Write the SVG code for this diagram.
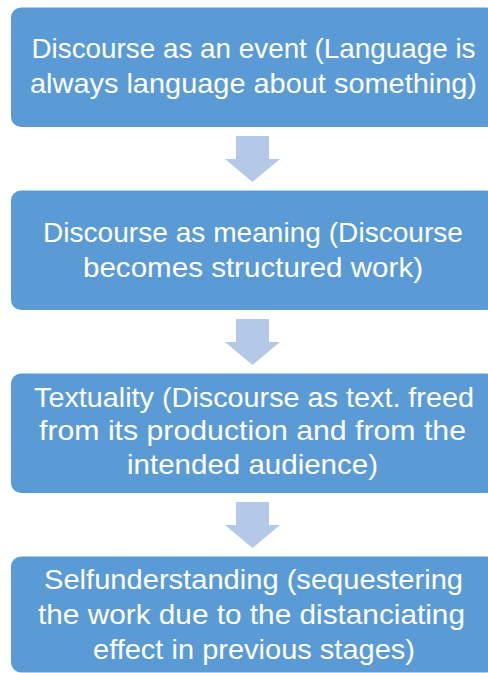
<svg xmlns="http://www.w3.org/2000/svg" width="488" height="673" viewBox="0 0 488 673">
  <defs>
    <style>
      .box { fill: #5B9BD5; }
      .arrow { fill: #B4C8E8; }
      .label { fill: #FFFFFF; font-family: "Liberation Sans", Arial, sans-serif; font-size: 28px; text-anchor: middle; }
    </style>
    <!-- down arrow shape, drawn relative to its top centre -->
    <path id="downArrow" d="M -16.5 0 H 16.5 V 23 H 27.5 L 0 46 L -27.5 23 H -16.5 Z"/>
  </defs>

  <rect width="488" height="673" fill="#FFFFFF"/>

  <g id="connectors">
    <use href="#downArrow" class="arrow" x="252.5" y="136"/>
    <use href="#downArrow" class="arrow" x="252.5" y="319"/>
    <use href="#downArrow" class="arrow" x="252.5" y="502"/>
  </g>

  <g id="node-event">
    <rect class="box" x="11" y="7.5" width="485" height="119.5" rx="10"/>
    <text class="label" x="253.5" y="58.3" textLength="444" lengthAdjust="spacingAndGlyphs">Discourse as an event (Language is</text>
    <text class="label" x="253.5" y="93.3" textLength="447" lengthAdjust="spacingAndGlyphs">always language about something)</text>
  </g>

  <g id="node-meaning">
    <rect class="box" x="11" y="190.5" width="485" height="119.5" rx="10"/>
    <text class="label" x="253" y="241.7" textLength="420" lengthAdjust="spacingAndGlyphs">Discourse as meaning (Discourse</text>
    <text class="label" x="253" y="276.7" textLength="340" lengthAdjust="spacingAndGlyphs">becomes structured work)</text>
  </g>

  <g id="node-textuality">
    <rect class="box" x="11" y="373.5" width="485" height="119.5" rx="10"/>
    <text class="label" x="254" y="406.7" textLength="440" lengthAdjust="spacingAndGlyphs">Textuality (Discourse as text. freed</text>
    <text class="label" x="252.5" y="440.3" textLength="427" lengthAdjust="spacingAndGlyphs">from its production and from the</text>
    <text class="label" x="252.5" y="474" textLength="251" lengthAdjust="spacingAndGlyphs">intended audience)</text>
  </g>

  <g id="node-selfunderstanding">
    <rect class="box" x="11" y="556.5" width="485" height="116" rx="10"/>
    <text class="label" x="253.5" y="589.3" textLength="419" lengthAdjust="spacingAndGlyphs">Selfunderstanding (sequestering</text>
    <text class="label" x="251.5" y="624.3" textLength="427" lengthAdjust="spacingAndGlyphs">the work due to the distanciating</text>
    <text class="label" x="254" y="659" textLength="322" lengthAdjust="spacingAndGlyphs">effect in previous stages)</text>
  </g>
</svg>
